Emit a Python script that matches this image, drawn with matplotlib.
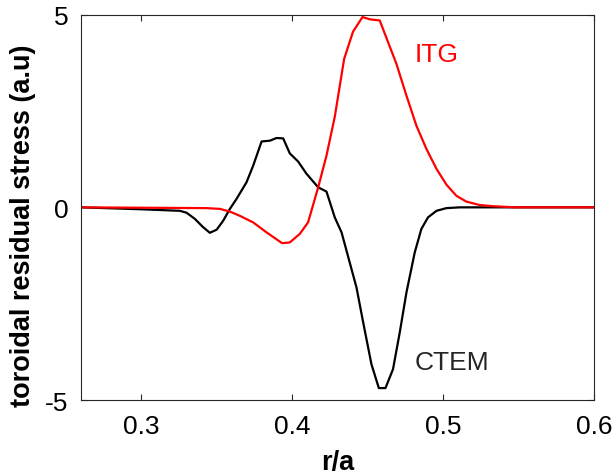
import matplotlib
matplotlib.use('Agg')
import matplotlib.pyplot as plt

plt.rcParams['font.family'] = ['Liberation Sans', 'DejaVu Sans']
plt.rcParams['axes.unicode_minus'] = False

# CTEM (black)
r_ctem = [0.26, 0.30, 0.3256, 0.3300, 0.3355, 0.3408, 0.3454, 0.3499, 0.3542, 0.3587,
          0.3631, 0.3697, 0.3741, 0.3797, 0.3852, 0.3896, 0.3940, 0.3984, 0.4039,
          0.4095, 0.4172, 0.4227, 0.4282, 0.4327, 0.4426, 0.4470, 0.4525, 0.4574,
          0.4618, 0.4668, 0.4713, 0.4757, 0.4812, 0.4856, 0.4900, 0.4956, 0.5022,
          0.5110, 0.60]
s_ctem = [0.0, -0.05, -0.09, -0.14, -0.30, -0.51, -0.66, -0.58, -0.35, -0.04,
          0.22, 0.65, 1.08, 1.71, 1.73, 1.80, 1.79, 1.40, 1.19,
          0.87, 0.52, 0.41, -0.26, -0.65, -2.08, -2.98, -4.07, -4.69,
          -4.69, -4.20, -3.24, -2.21, -1.17, -0.56, -0.26, -0.09, -0.02,
          0.0, 0.0]

# ITG (red)
r_itg = [0.26, 0.3432, 0.3521, 0.3587, 0.3653, 0.3741, 0.3830, 0.3933, 0.3984,
         0.4050, 0.4105, 0.4172, 0.4227, 0.4282, 0.4344, 0.4403, 0.4466, 0.4514,
         0.4580, 0.4635, 0.4691, 0.4757, 0.4823, 0.4889, 0.4956, 0.5022, 0.5088,
         0.5154, 0.5242, 0.5330, 0.5481, 0.60]
s_itg = [0.0, -0.02, -0.04, -0.11, -0.22, -0.39, -0.65, -0.93, -0.91,
         -0.69, -0.39, 0.52, 1.34, 2.35, 3.85, 4.56, 4.94, 4.88,
         4.85, 4.29, 3.72, 2.90, 2.12, 1.52, 1.00, 0.59, 0.30,
         0.15, 0.06, 0.03, 0.0, 0.0]

xticks = [0.3, 0.4, 0.5, 0.6]
yticks = [-5, 0, 5]

fig = plt.figure(figsize=(6.14, 4.77), dpi=100)
ax = fig.add_axes([0.1319, 0.1593, 0.8355, 0.8078])

ax.plot(r_ctem, s_ctem, color='black', lw=1.6)
ax.plot(r_itg, s_itg, color='red', lw=1.6)

ax.text(0.4958, 3.98, 'ITG', color='red', fontsize=19, ha='center', va='center')
ax.text(0.506, -4.01, 'CTEM', color='#262626', fontsize=19, ha='center', va='center')

ax.set_xlim(0.26, 0.6)
ax.set_ylim(-5, 5)
ax.set_xticks(xticks)
ax.set_xticklabels(['0.3', '0.4', '0.5', '0.6'])
ax.set_yticks(yticks)
ax.tick_params(direction='in', length=4, width=0.8, top=True, right=True,
               labelsize=19, colors='#262626', labelcolor='black')
ax.tick_params(axis='x', pad=10)
ax.tick_params(axis='y', pad=9)
for sp in ax.spines.values():
    sp.set_linewidth(0.8)
    sp.set_color('#262626')

ax.set_xlabel('r/a', fontsize=19.5, fontweight='bold', labelpad=8)
ax.set_ylabel('toroidal residual stress (a.u)', fontsize=19.5, fontweight='bold')
ax.yaxis.set_label_coords(-0.088, 0.455)

fig.savefig('out.png', dpi=100)
